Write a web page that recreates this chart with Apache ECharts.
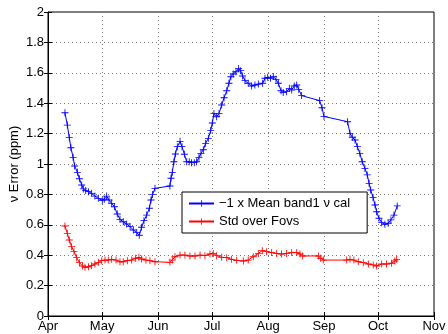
<!DOCTYPE html>
<html>
<head>
<meta charset="utf-8">
<script src="https://cdn.jsdelivr.net/npm/echarts@6/dist/echarts.min.js"></script>
<style>html,body{margin:0;padding:0;background:#fff}#c{width:448px;height:334px}</style>
</head>
<body>
<div id="c"></div>
<script>
// Days since 1 April and values
const meanDays = [9.4,10.7,11.8,12.7,13.9,14.8,16.3,17.4,18.7,19.6,20.9,22.4,24.2,26,27.9,30.1,31.2,32.5,33.8,35.3,36.8,38.4,39.9,41.7,43.6,45.5,47.3,49.2,50.6,51.9,53.2,54.7,56.2,57.1,58,59.3,67.6,68.2,68.9,69.8,70.6,71.7,73.2,74.3,75.6,76.9,78.3,79.6,81.1,82.4,83.7,84.8,86.1,87.4,88.9,90.2,91.1,92,93.5,94.8,96.3,97.6,99.1,100.3,101.4,102.7,104.2,105.7,106.8,107.9,109.2,111,112.9,114.7,116.6,119,120.3,121.8,123.4,124.9,126.4,127.7,129.2,130.4,132.3,133.8,135.1,136.5,137.9,139,140.6,150.6,151.9,153,166.1,167.4,168.7,170.2,171.5,172.9,174.2,175.7,177,178,178.9,180.2,181.3,182.2,183.5,185,186.8,188.6,190.1,191.8,193.6];
const meanVals = [1.337,1.256,1.173,1.107,1.044,0.987,0.945,0.903,0.862,0.836,0.825,0.818,0.807,0.789,0.774,0.759,0.768,0.789,0.763,0.741,0.719,0.671,0.636,0.620,0.605,0.588,0.566,0.548,0.531,0.584,0.627,0.664,0.709,0.763,0.800,0.840,0.855,0.906,0.945,1.015,1.066,1.114,1.149,1.114,1.064,1.015,1.015,1.009,1.009,1.015,1.044,1.070,1.094,1.136,1.169,1.220,1.270,1.333,1.311,1.333,1.388,1.436,1.482,1.531,1.574,1.592,1.607,1.629,1.614,1.579,1.548,1.531,1.513,1.520,1.526,1.531,1.564,1.570,1.564,1.575,1.557,1.531,1.482,1.470,1.476,1.498,1.487,1.513,1.520,1.491,1.450,1.417,1.370,1.313,1.278,1.202,1.176,1.158,1.114,1.070,1.015,0.971,0.928,0.873,0.829,0.780,0.730,0.686,0.643,0.614,0.603,0.610,0.632,0.664,0.724];
const stdDays = [9.4,10.7,11.8,13.1,14.4,15.9,17.4,19.2,20.5,22.4,24.2,26,27.9,29.8,31.6,33.4,35.3,37.7,39.9,41.7,44,46.4,48.6,50.4,51.9,54.3,56.5,59.3,67.6,68.9,70.4,73.2,75.9,78.7,81.5,84.3,87,89.8,91.6,93.5,96.3,99.1,101.8,104.6,108.3,111,113.8,116.6,118.8,121.2,124,126.8,129.5,132.3,135.1,137.9,139.7,141.2,149.9,151.2,152.6,165.6,167.4,169.6,172,174.8,177.6,180.3,182.2,185,187.7,190.5,192.3,193.3];
const stdVals = [0.592,0.544,0.500,0.456,0.423,0.384,0.351,0.329,0.320,0.324,0.331,0.342,0.353,0.364,0.368,0.368,0.373,0.368,0.357,0.357,0.364,0.368,0.380,0.386,0.375,0.368,0.364,0.357,0.353,0.368,0.390,0.401,0.401,0.395,0.395,0.401,0.397,0.408,0.412,0.397,0.386,0.384,0.373,0.366,0.362,0.368,0.390,0.412,0.430,0.423,0.417,0.412,0.408,0.412,0.417,0.417,0.408,0.395,0.395,0.380,0.368,0.368,0.373,0.368,0.357,0.351,0.342,0.336,0.329,0.342,0.342,0.347,0.362,0.373];
const seriesNames = ['\u22121 x Mean band1 \u03bd cal', 'Std over Fovs'];
const yTicks = [0,0.2,0.4,0.6,0.8,1,1.2,1.4,1.6,1.8,2];
const monthLabels = ['Apr','May','Jun','Jul','Aug','Sep','Oct','Nov'];
const monthStartDays = [0,30,61,91,122,153,183,214];

const toPts = (d, v) => d.map((x, i) => [x, v[i]]);
const plus = 'path://M4.4,0H5.6V4.4H10V5.6H5.6V10H4.4V5.6H0V4.4H4.4Z';
const font = 'Liberation Sans, Arial, Helvetica, sans-serif';
const monthOf = v => { const i = monthStartDays.findIndex(d => Math.abs(d - v) < 1e-6); return i < 0 ? '' : monthLabels[i]; };

const chart = echarts.init(document.getElementById('c'), null, {renderer: 'canvas'});
const xCommon = {type: 'value', min: 0, max: 214};
chart.setOption({
  animation: false,
  backgroundColor: '#fff',
  grid: {left: 48, right: 14, top: 12, bottom: 18, containLabel: false, outerBoundsMode: 'none',
    show: true, borderColor: '#000', borderWidth: 1},
  xAxis: [
    Object.assign({}, xCommon, {
      position: 'bottom',
      axisLine: {lineStyle: {color: '#000', width: 1}},
      axisTick: {inside: true, length: 4, lineStyle: {color: '#000'}, customValues: monthStartDays},
      axisLabel: {
        customValues: monthStartDays, formatter: monthOf,
        color: '#000', fontFamily: font, fontSize: 13, margin: 4,
        showMinLabel: true, showMaxLabel: true, hideOverlap: false
      },
      splitLine: {show: true, lineStyle: {color: '#777', type: [1, 3], width: 1}}
    }),
    Object.assign({}, xCommon, {
      position: 'top',
      axisLine: {show: false},
      axisTick: {inside: true, length: 4, lineStyle: {color: '#000'}, customValues: monthStartDays},
      axisLabel: {show: false},
      splitLine: {show: false}
    })
  ],
  yAxis: [
    {
      type: 'value', min: 0, max: 2, interval: 0.2,
      name: '\u03bd Error (ppm)', nameLocation: 'middle', nameGap: 27, nameMoveOverlap: false,
      nameTextStyle: {color: '#000', fontFamily: font, fontSize: 13},
      axisLine: {show: true, lineStyle: {color: '#000', width: 1}},
      axisTick: {show: true, inside: true, length: 4, lineStyle: {color: '#000'}},
      axisLabel: {color: '#000', fontFamily: font, fontSize: 13, margin: 4,
        formatter: v => { const t = yTicks.find(k => Math.abs(k - v) < 1e-9); return t === undefined ? '' : String(t); }},
      splitLine: {show: true, lineStyle: {color: '#777', type: [1, 3], width: 1}}
    },
    {
      type: 'value', min: 0, max: 2, interval: 0.2, position: 'right',
      axisLine: {show: false},
      axisTick: {show: true, inside: true, length: 4, lineStyle: {color: '#000'}},
      axisLabel: {show: false},
      splitLine: {show: false}
    }
  ],
  legend: {
    left: 182, top: 192, orient: 'vertical',
    backgroundColor: '#fff', borderColor: '#000', borderWidth: 1, borderRadius: 0,
    padding: [5, 17, 5, 6], itemGap: 5, itemWidth: 25, itemHeight: 8,
    textStyle: {color: '#000', fontFamily: font, fontSize: 13},
    data: seriesNames
  },
  series: [
    {
      name: seriesNames[0], type: 'line', data: toPts(meanDays, meanVals),
      color: '#0000ff', lineStyle: {width: 1, color: '#0000ff'},
      symbol: plus, symbolSize: 7, showAllSymbol: true, itemStyle: {color: '#0000ff'}
    },
    {
      name: seriesNames[1], type: 'line', data: toPts(stdDays, stdVals),
      color: '#ff0000', lineStyle: {width: 1, color: '#ff0000'},
      symbol: plus, symbolSize: 7, showAllSymbol: true, itemStyle: {color: '#ff0000'}
    }
  ]
});
</script>
</body>
</html>
